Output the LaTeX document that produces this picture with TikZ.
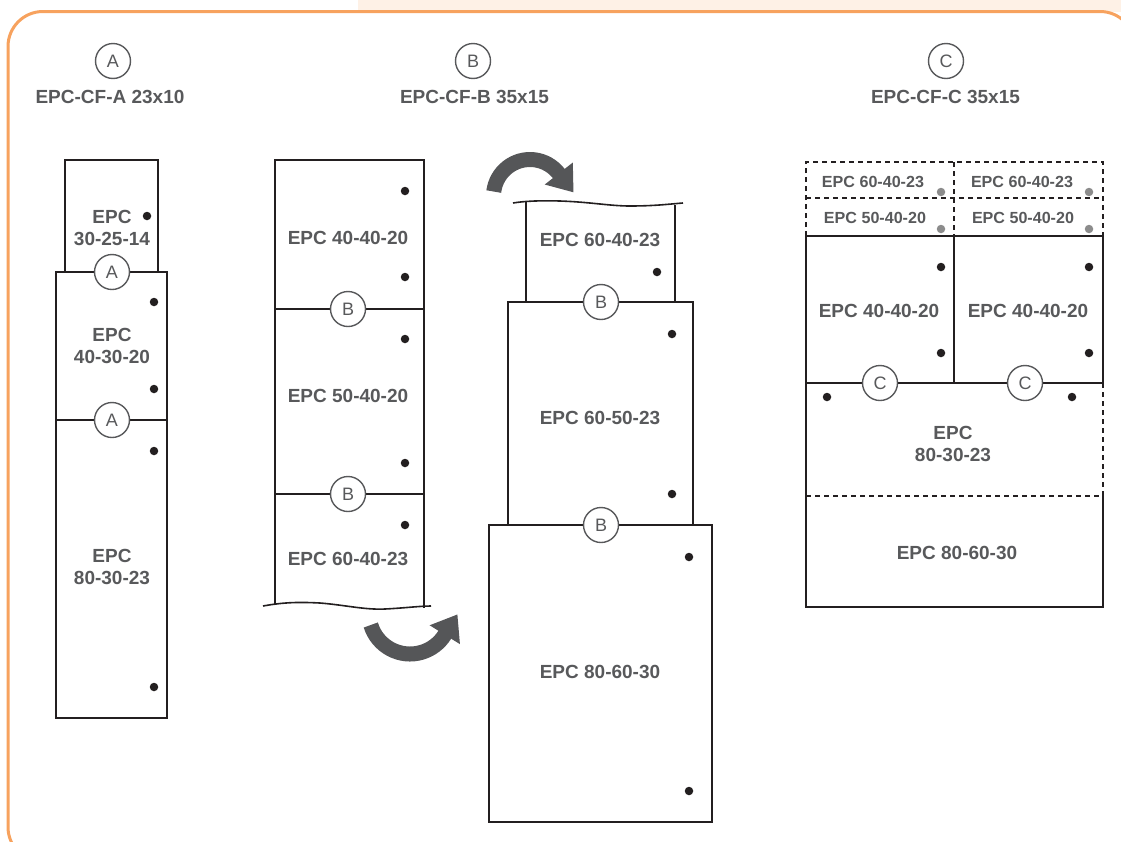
\documentclass[tikz,border=0pt]{standalone}
\usepackage{fontspec}
\setmainfont{Liberation Sans}
\usetikzlibrary{arrows.meta}
\definecolor{txtgray}{HTML}{58595B}
\definecolor{linec}{HTML}{231F20}
\definecolor{orangeb}{HTML}{F7A25E}
\definecolor{peach}{HTML}{FEF1E6}
\definecolor{arrowc}{HTML}{555658}
\definecolor{dotgray}{HTML}{8C8C8C}
\begin{document}
\begin{tikzpicture}[x=1pt,y=-1pt,
  lbl/.style={font=\bfseries\fontsize{19}{22}\selectfont, text=txtgray, align=center, inner sep=0},
  ttl/.style={font=\bfseries\fontsize{19}{21}\selectfont, text=txtgray, inner sep=0},
  slbl/.style={font=\bfseries\fontsize{16.1}{19}\selectfont, text=txtgray, inner sep=0},
  tagc/.style={circle, draw=txtgray, fill=white, line width=1.4, minimum size=35, inner sep=0, font=\fontsize{18}{18}\selectfont, text=txtgray},
  bdot/.style={circle, fill=linec, minimum size=8.5, inner sep=0},
  gdot/.style={circle, fill=dotgray, minimum size=8.5, inner sep=0},
  boxline/.style={draw=linec, line width=1.6},
  dashline/.style={draw=linec, line width=1.5, dash pattern=on 5pt off 4pt},
  bigarrow/.style={draw=arrowc, line width=15, -{Triangle[width=34pt,length=24pt]}}]
\useasboundingbox (0,0) rectangle (1121,841);
\begin{scope}
\clip (0,0) rectangle (1121,841);
\fill[peach] (358,0) rectangle (1121,11.5);
\draw[orangeb, line width=3, rounded corners=35] (8,11.5) rectangle (1135,862);
\end{scope}

% ---------- titles ----------
\node[tagc] (tA) at (113,61) {A};
\node[ttl] (ttA) at (110,97) {EPC-CF-A 23x10};
\node[tagc] (tB) at (473,61) {B};
\node[ttl] (ttB) at (474.5,97) {EPC-CF-B 35x15};
\node[tagc] (tC) at (946,61) {C};
\node[ttl] (ttC) at (945.5,97) {EPC-CF-C 35x15};

% ---------- A ----------
\draw[boxline] (65,272) -- (65,160) -- (158,160) -- (158,272);
\draw[boxline] (56,272) rectangle (167,420);
\draw[boxline] (56,420) rectangle (167,718);
\node[lbl] (a1) at (112,228) {EPC\\30-25-14};
\node[lbl] (a2) at (112,346) {EPC\\40-30-20};
\node[lbl] (a3) at (112,567) {EPC\\80-30-23};
\node[tagc] (ca1) at (112,272) {A};
\node[tagc] (ca2) at (112,420) {A};
\foreach \p in {(147,216),(154,302),(154,389),(154,451),(154,687)} \node[bdot] at \p {};

% ---------- B left column ----------
\draw[boxline] (275,604) -- (275,160) -- (424,160) -- (424,608);
\draw[boxline] (275,309) -- (424,309);
\draw[boxline] (275,494) -- (424,494);
\draw[boxline] (263,606) .. controls (285,602) and (300,602) .. (320,603)
  .. controls (345,605) and (365,610) .. (385,609)
  .. controls (405,608) and (420,606) .. (431,606);
\node[lbl] (b1) at (348,238) {EPC 40-40-20};
\node[lbl] (b2) at (348,396) {EPC 50-40-20};
\node[lbl] (b3) at (348,559) {EPC 60-40-23};
\node[tagc] (cb1) at (348,309) {B};
\node[tagc] (cb2) at (348,494) {B};
\foreach \p in {(405,191),(405,277),(405,339),(405,463),(405,525)} \node[bdot] at \p {};

% ---------- B right column ----------
\draw[boxline] (526,302) -- (526,202);
\draw[boxline] (675,302) -- (675,205);
\draw[boxline] (513,203) .. controls (525,201) and (540,200.5) .. (560,201)
  .. controls (590,202) and (610,206) .. (630,206)
  .. controls (655,206) and (670,204) .. (683,203);
\draw[boxline] (508,302) rectangle (693,525);
\draw[boxline] (489,525) rectangle (712,822);
\node[lbl] (b4) at (600,240) {EPC 60-40-23};
\node[lbl] (b5) at (600,418) {EPC 60-50-23};
\node[lbl] (b6) at (600,672) {EPC 80-60-30};
\node[tagc] (cb3) at (601,302) {B};
\node[tagc] (cb4) at (601,525) {B};
\foreach \p in {(657,272),(672,334),(672,494),(689,557),(689,791)} \node[bdot] at \p {};

% ---------- curved arrows ----------
\draw[bigarrow] (530,196) ++(187:36.5) arc[start angle=187, end angle=322, radius=36.5] -- ++(14.8,18.9);
\draw[bigarrow] (410,613) ++(163:41) arc[start angle=163, end angle=32, radius=41] -- ++(12.7,-20.4);

% ---------- C ----------
\draw[dashline] (806,236) -- (806,162) -- (1103,162) -- (1103,236);
\draw[dashline] (954,162) -- (954,236);
\draw[dashline] (806,198) -- (1103,198);
\draw[dashline] (806,496) -- (1103,496);
\draw[dashline] (1103,383) -- (1103,496);
\draw[boxline] (806,236) -- (1103,236) -- (1103,383);
\draw[boxline] (954,236) -- (954,383);
\draw[boxline] (806,383) -- (1103,383);
\draw[boxline] (806,236) -- (806,607) -- (1103,607) -- (1103,496);
\node[slbl] (c1) at (873,182) {EPC 60-40-23};
\node[slbl] (c2) at (1022,182) {EPC 60-40-23};
\node[slbl] (c3) at (875,218) {EPC 50-40-20};
\node[slbl] (c4) at (1023,218) {EPC 50-40-20};
\node[lbl] (c5) at (879,311) {EPC 40-40-20};
\node[lbl] (c6) at (1028,311) {EPC 40-40-20};
\node[lbl] (c7) at (953,444) {EPC\\80-30-23};
\node[lbl] (c8) at (957,553) {EPC 80-60-30};
\node[tagc] (cc1) at (880,383) {C};
\node[tagc] (cc2) at (1025,383) {C};
\foreach \p in {(941,267),(941,353),(1089,267),(1089,353),(827,397),(1072,397)} \node[bdot] at \p {};
\foreach \p in {(941,192),(1089,192),(941,229),(1089,229)} \node[gdot] at \p {};
\end{tikzpicture}
\end{document}
